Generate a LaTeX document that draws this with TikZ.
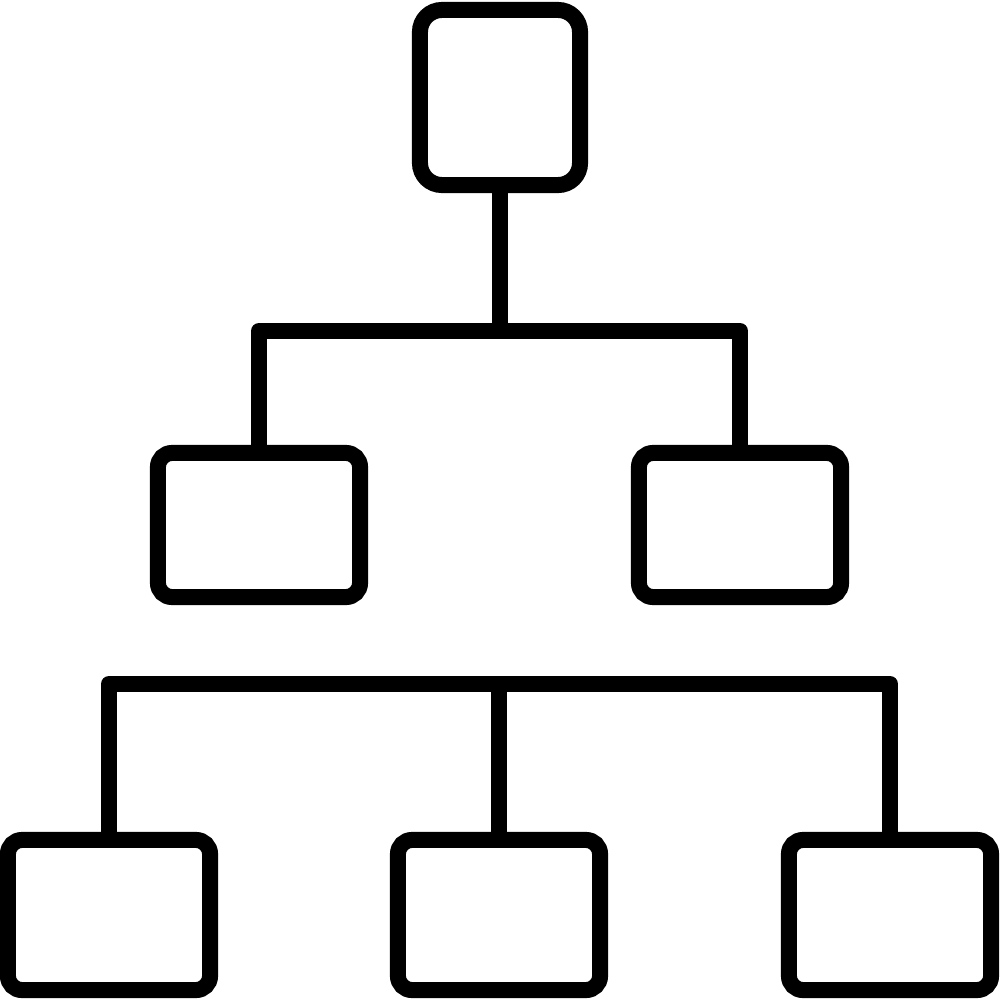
\documentclass[tikz,border=0pt]{standalone}
\usepackage{tikz}

\begin{document}
\begin{tikzpicture}[x=0.01cm,y=-0.01cm,
		box/.style={draw=black,line width=0.16cm,rounded corners=0.14cm,outer sep=0pt,inner sep=0pt},
		wire/.style={draw=black,line width=0.16cm,line join=round}]
			\useasboundingbox (0,0) rectangle (999,1000);
			
			% root
			
			\node[box,rounded corners=0.22cm,minimum width=1.6cm,minimum height=1.75cm] (R) at (500,97.5) {};
			\coordinate (busTop) at (500,331);
			\draw[wire] (R.south) -- (busTop);
			
			% middle row
			
			\node[box,minimum width=2.02cm,minimum height=1.44cm] (M1) at (259,525) {};
			\node[box,minimum width=2.02cm,minimum height=1.44cm] (M2) at (740,525) {};
			\draw[wire] (M1.north) |- (busTop) -| (M2.north);
			
			% bottom row
			
			\coordinate (busLow) at (499,684);
			\foreach \i/\x in {1/109,2/499,3/890} {
				\node[box,minimum width=2.02cm,minimum height=1.5cm] (B\i) at (\x,915) {};
			}
			\draw[wire] (B1.north) |- (busLow) -| (B3.north);
			\draw[wire] (busLow) -- (B2.north);
		\end{tikzpicture}
\end{document}
